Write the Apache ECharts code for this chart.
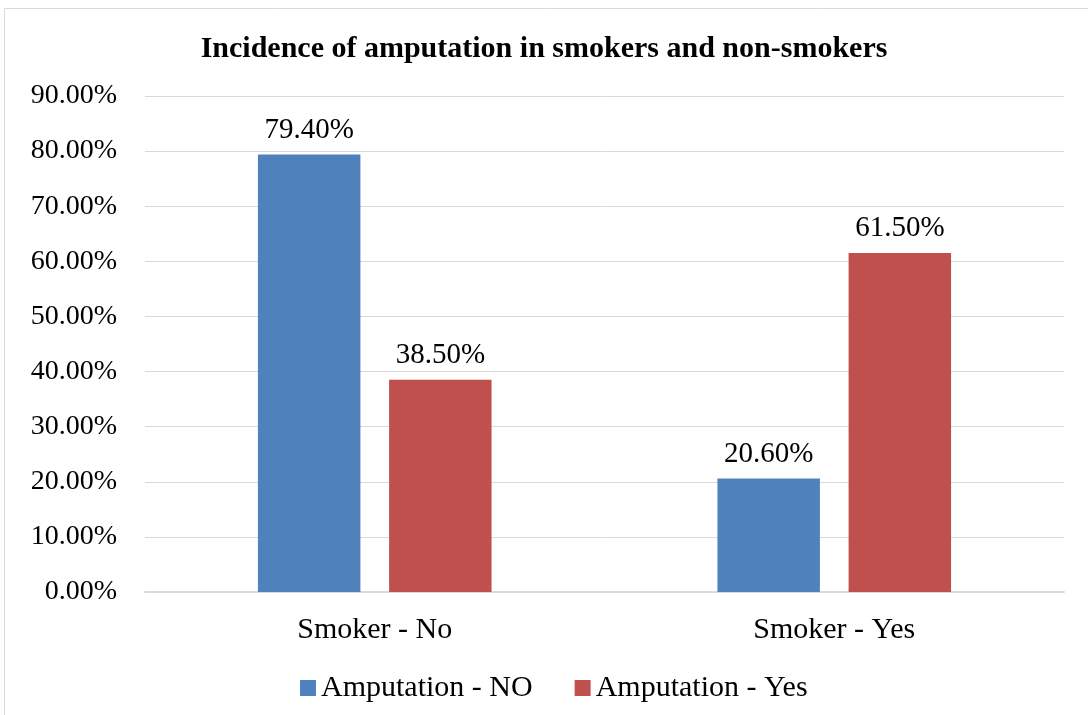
<!DOCTYPE html>
<html><head><meta charset="utf-8">
<script src="https://cdn.jsdelivr.net/npm/echarts@6/dist/echarts.min.js"></script>
<style>html,body{margin:0;padding:0;background:#fff}#c{width:1088px;height:715px}</style>
</head><body><div id="c"></div>
<script>
const categories = ["Smoker - No", "Smoker - Yes"];
const amputationNo = [79.4, 20.6];
const amputationYes = [38.5, 61.5];
const seriesNames = ["Amputation - NO", "Amputation - Yes"];
const titleText = "Incidence of amputation in smokers and non-smokers";

const font = "'Liberation Serif', 'Times New Roman', serif";
const chart = echarts.init(document.getElementById('c'));
const labelOpt = {show: true, position: 'top', distance: 10, fontFamily: font, fontSize: 29, color: '#000',
  formatter: p => p.value.toFixed(2) + '%'};
chart.setOption({
  animation: false,
  graphic: [{type: 'rect', shape: {x: 4.5, y: 8.5, width: 1100, height: 720}, style: {fill: 'none', stroke: '#D9D9D9', lineWidth: 1}}],
  title: {text: titleText, left: 'center', top: 29, textStyle: {fontFamily: font, fontSize: 30, fontWeight: 'bold', color: '#000'}},
  legend: {top: 668, left: 295, itemWidth: 16, itemHeight: 16, itemGap: 42, icon: 'rect',
    textStyle: {fontFamily: font, fontSize: 30, color: '#000'}, data: seriesNames},
  grid: {left: 145, right: 24, top: 96, bottom: 123, containLabel: false},
  xAxis: {type: 'category', data: categories,
    axisLine: {lineStyle: {color: '#D9D9D9', width: 2}}, axisTick: {show: false},
    axisLabel: {fontFamily: font, fontSize: 30, color: '#000', margin: 23}},
  yAxis: {type: 'value', min: 0, max: 90, interval: 10,
    axisLine: {show: false}, axisTick: {show: false},
    splitLine: {lineStyle: {color: '#D9D9D9', width: 1}},
    axisLabel: {fontFamily: font, fontSize: 28, color: '#000', margin: 28, formatter: v => v.toFixed(2) + '%'}},
  series: [
    {name: seriesNames[0], type: 'bar', data: amputationNo, barWidth: '22.3%', barGap: '28%',
     itemStyle: {color: '#4F81BD'}, label: labelOpt},
    {name: seriesNames[1], type: 'bar', data: amputationYes, barWidth: '22.3%',
     itemStyle: {color: '#C0504D'}, label: labelOpt}
  ]
});
</script></body></html>
